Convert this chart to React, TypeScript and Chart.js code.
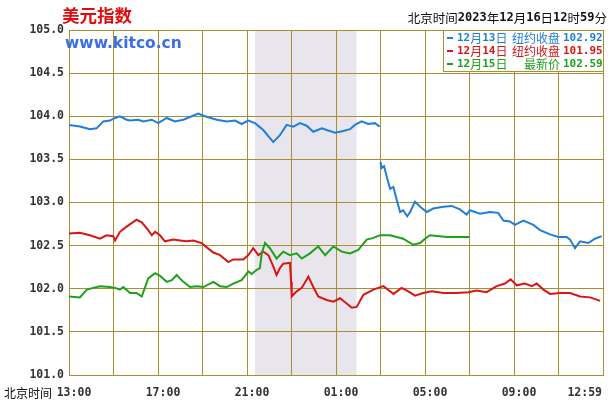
import React, { useEffect, useRef } from "react";
import { Chart, registerables } from "chart.js";
Chart.register(...registerables);

// hours since 13:00 Beijing time
const X_LABELS = ["13:00", "17:00", "21:00", "01:00", "05:00", "09:00", "12:59"];
const X_MIN = 0;
const X_MAX = 24;
const Y_MIN = 101;
const Y_MAX = 105;
const SHADE_START = 8.36;
const SHADE_END = 12.92;

// 12月13日 (blue) – two segments
const BLUE1_T = [0, 0.49, 0.94, 1.24, 1.54, 1.84, 2.07, 2.29, 2.59, 2.74, 3.11, 3.34, 3.72, 4.01, 4.39, 4.76, 5.14, 5.52, 5.81, 6.11, 6.64, 7.09, 7.46, 7.76, 8.06, 8.36, 8.73, 9.18, 9.48, 9.78, 10.08, 10.38, 10.68, 10.98, 11.36, 11.58, 11.96, 12.33, 12.63, 12.85, 13.15, 13.45, 13.75, 13.96];
const BLUE1_V = [103.9, 103.88, 103.85, 103.86, 103.94, 103.95, 103.98, 104.0, 103.96, 103.95, 103.96, 103.94, 103.96, 103.92, 103.98, 103.94, 103.96, 104.0, 104.03, 104.0, 103.96, 103.94, 103.95, 103.91, 103.95, 103.92, 103.84, 103.7, 103.78, 103.9, 103.88, 103.92, 103.89, 103.82, 103.86, 103.84, 103.81, 103.83, 103.85, 103.9, 103.94, 103.91, 103.92, 103.88];
const BLUE2_T = [14.0, 14.05, 14.16, 14.28, 14.43, 14.58, 14.73, 14.88, 15.02, 15.2, 15.33, 15.55, 15.78, 16.08, 16.37, 16.82, 17.2, 17.57, 17.87, 18.02, 18.47, 18.92, 19.29, 19.52, 19.82, 20.04, 20.42, 20.87, 21.17, 21.62, 21.99, 22.37, 22.52, 22.74, 22.97, 23.34, 23.64, 23.94];
const BLUE2_V = [103.47, 103.4, 103.42, 103.3, 103.16, 103.18, 103.03, 102.89, 102.91, 102.84, 102.89, 103.01, 102.95, 102.89, 102.93, 102.95, 102.96, 102.92, 102.86, 102.91, 102.87, 102.89, 102.88, 102.79, 102.78, 102.74, 102.79, 102.74, 102.68, 102.63, 102.6, 102.6, 102.57, 102.47, 102.55, 102.53, 102.58, 102.61];

// 12月14日 (red)
const RED_T = [0, 0.49, 0.94, 1.39, 1.69, 1.99, 2.07, 2.29, 2.59, 3.04, 3.27, 3.56, 3.72, 3.87, 4.09, 4.31, 4.69, 4.99, 5.29, 5.59, 5.96, 6.19, 6.49, 6.79, 7.16, 7.38, 7.83, 8.06, 8.28, 8.51, 8.73, 8.96, 9.18, 9.33, 9.48, 9.63, 9.93, 9.98, 10.01, 10.23, 10.46, 10.76, 10.98, 11.2, 11.58, 11.88, 12.18, 12.48, 12.71, 12.93, 13.23, 13.68, 14.13, 14.58, 14.95, 15.25, 15.55, 15.92, 16.3, 16.82, 17.42, 17.95, 18.32, 18.77, 19.22, 19.6, 19.85, 20.12, 20.49, 20.8, 21.02, 21.32, 21.62, 22.07, 22.52, 22.97, 23.42, 23.87];
const RED_V = [102.64, 102.65, 102.62, 102.58, 102.62, 102.61, 102.56, 102.66, 102.72, 102.8, 102.77, 102.68, 102.62, 102.66, 102.62, 102.55, 102.57, 102.56, 102.55, 102.56, 102.53, 102.48, 102.42, 102.39, 102.31, 102.34, 102.34, 102.39, 102.47, 102.39, 102.43, 102.39, 102.26, 102.16, 102.24, 102.29, 102.3, 102.08, 101.91, 101.97, 102.01, 102.14, 102.02, 101.91, 101.87, 101.85, 101.89, 101.83, 101.78, 101.79, 101.93, 101.99, 102.03, 101.94, 102.01, 101.97, 101.92, 101.95, 101.97, 101.95, 101.95, 101.96, 101.98, 101.96, 102.03, 102.06, 102.11, 102.04, 102.06, 102.03, 102.06, 101.99, 101.94, 101.95, 101.95, 101.91, 101.9, 101.86];

// 12月15日 (green)
const GREEN_T = [0, 0.49, 0.8, 1.09, 1.39, 1.84, 2.07, 2.29, 2.44, 2.74, 3.04, 3.27, 3.56, 3.87, 4.09, 4.39, 4.62, 4.84, 5.14, 5.44, 5.74, 6.04, 6.49, 6.79, 7.09, 7.38, 7.76, 8.06, 8.21, 8.44, 8.58, 8.66, 8.81, 9.03, 9.33, 9.63, 9.93, 10.23, 10.46, 10.83, 11.2, 11.51, 11.88, 12.26, 12.63, 13.0, 13.38, 13.68, 13.98, 14.43, 15.02, 15.47, 15.78, 16.0, 16.22, 16.98, 17.99];
const GREEN_V = [101.91, 101.9, 101.99, 102.01, 102.03, 102.02, 102.01, 101.99, 102.02, 101.95, 101.95, 101.91, 102.12, 102.18, 102.15, 102.08, 102.1, 102.16, 102.08, 102.02, 102.03, 102.02, 102.08, 102.03, 102.02, 102.06, 102.1, 102.2, 102.17, 102.22, 102.24, 102.41, 102.53, 102.47, 102.35, 102.43, 102.39, 102.41, 102.35, 102.41, 102.49, 102.39, 102.49, 102.43, 102.41, 102.45, 102.57, 102.59, 102.62, 102.62, 102.58, 102.51, 102.53, 102.58, 102.62, 102.6, 102.6];

const LEGEND_DATES = ["12月13日", "12月14日", "12月15日"];
const LEGEND_KINDS = ["纽约收盘", "纽约收盘", "最新价"];
const LEGEND_VALUES = ["102.92", "101.95", "102.59"];

const TITLE = "美元指数";
const SITE = "www.kitco.cn";
const STAMP = "北京时间2023年12月16日12时59分";
const X_AXIS_NAME = "北京时间";

const COLORS = ["#1f7fd8", "#d81616", "#1ea01e"];
const GRID = "#aa8f30";
const SHADE = "#e8e6ec";
const MONO = '"DejaVu Sans Mono", monospace';
const CJK = '"Noto Sans CJK SC", sans-serif';

const toPts = (t: number[], v: number[]) => t.map((x, i) => ({ x, y: v[i] }));

function drawMixed(ctx: CanvasRenderingContext2D, text: string, x: number, y: number, align: "left" | "right", digitFont: string, cjkFont: string, color: string) {
  const runs = text.match(/[0-9.:]+|[^0-9.:]+/g) || [];
  const fontOf = (r: string) => (/^[0-9.:]+$/.test(r) ? digitFont : cjkFont);
  let total = 0;
  for (const r of runs) { ctx.font = fontOf(r); total += ctx.measureText(r).width; }
  let cx = align === "left" ? x : x - total;
  ctx.fillStyle = color;
  ctx.textAlign = "left";
  ctx.textBaseline = "middle";
  for (const r of runs) {
    ctx.font = fontOf(r);
    ctx.fillText(r, cx, y);
    cx += ctx.measureText(r).width;
  }
}

const decor = {
  id: "decor",
  beforeDraw(chart: any) {
    const { ctx, chartArea, scales } = chart;
    ctx.save();
    ctx.fillStyle = "#ffffff";
    ctx.fillRect(0, 0, chart.width, chart.height);
    const x0 = scales.x.getPixelForValue(SHADE_START);
    const x1 = scales.x.getPixelForValue(SHADE_END);
    ctx.fillStyle = SHADE;
    ctx.fillRect(x0, chartArea.top, x1 - x0, chartArea.bottom - chartArea.top);
    ctx.restore();
  },
  afterDraw(chart: any) {
    const { ctx, chartArea, scales } = chart;
    ctx.save();
    // title
    ctx.font = `bold 17.5px ${CJK}`;
    ctx.fillStyle = "#e00b0b";
    ctx.textAlign = "left";
    ctx.textBaseline = "middle";
    ctx.fillText(TITLE, 62, 15);
    // site
    ctx.font = 'bold 15.5px "DejaVu Sans", sans-serif';
    ctx.fillStyle = "#3a6ee6";
    ctx.fillText(SITE, 65, 44);
    // stamp
    drawMixed(ctx, STAMP, 607, 18, "right", `bold 12px ${MONO}`, `12.5px ${CJK}`, "#111");
    // legend box
    const bx = 443.5, by = chartArea.top + 0.5, bw = chartArea.right - 443, bh = 41;
    ctx.fillStyle = "#fff";
    ctx.fillRect(bx, by, bw, bh);
    ctx.strokeStyle = GRID;
    ctx.lineWidth = 1;
    ctx.strokeRect(bx, by, bw, bh);
    const rows = [38, 51, 64];
    for (let i = 0; i < 3; i++) {
      const y = rows[i];
      ctx.fillStyle = COLORS[i];
      ctx.fillRect(447, y - 1, 6, 2);
      drawMixed(ctx, LEGEND_DATES[i], 457, y, "left", `bold 11px ${MONO}`, `12px ${CJK}`, COLORS[i]);
      ctx.font = `12px ${CJK}`;
      ctx.fillStyle = COLORS[i];
      ctx.textAlign = "right";
      ctx.textBaseline = "middle";
      ctx.fillText(LEGEND_KINDS[i], 560, y);
      ctx.font = `bold 11px ${MONO}`;
      ctx.textAlign = "left";
      ctx.fillText(LEGEND_VALUES[i], 563, y);
    }
    // x labels
    ctx.font = `bold 11.5px ${MONO}`;
    ctx.fillStyle = "#333";
    ctx.textBaseline = "middle";
    const ly = 393;
    X_LABELS.forEach((lab, i) => {
      const px = scales.x.getPixelForValue(i * 4);
      if (i === X_LABELS.length - 1) {
        ctx.textAlign = "right";
        ctx.fillText(lab, chartArea.right - 1, ly);
      } else {
        ctx.textAlign = "center";
        ctx.fillText(lab, px + 5, ly);
      }
    });
    ctx.font = `12px ${CJK}`;
    ctx.fillStyle = "#111";
    ctx.textAlign = "left";
    ctx.fillText(X_AXIS_NAME, 4, ly);
    ctx.restore();
  },
};

export default function App() {
  const ref = useRef<HTMLCanvasElement>(null);
  useEffect(() => {
    if (!ref.current) return;
    const lineDs = (data: any[], color: string) => ({
      data,
      borderColor: color,
      backgroundColor: color,
      borderWidth: 2,
      pointRadius: 0,
      tension: 0,
      spanGaps: false,
    });
    const chart = new Chart(ref.current, {
      type: "line",
      data: {
        // first dataset is drawn on top
        datasets: [
          lineDs(toPts(GREEN_T, GREEN_V), COLORS[2]),
          lineDs([...toPts(BLUE1_T, BLUE1_V), { x: 13.98, y: null }, ...toPts(BLUE2_T, BLUE2_V)], COLORS[0]),
          lineDs(toPts(RED_T, RED_V), COLORS[1]),
        ] as any,
      },
      options: {
        animation: false,
        responsive: false,
        devicePixelRatio: 1,
        layout: { padding: { top: 30, right: 10, left: 0, bottom: 0 } },
        plugins: { legend: { display: false }, tooltip: { enabled: false }, title: { display: false } },
        scales: {
          x: {
            type: "linear",
            min: X_MIN,
            max: X_MAX,
            ticks: { stepSize: 2, display: false },
            grid: { color: GRID, lineWidth: 1, drawTicks: false },
            border: { color: GRID },
            afterFit: (s: any) => { s.height = 35; },
          },
          y: {
            min: Y_MIN,
            max: Y_MAX,
            ticks: {
              stepSize: 0.5,
              padding: 5,
              color: "#333",
              font: { family: "DejaVu Sans Mono", size: 11.5, weight: "bold" },
              callback: (v: any) => Number(v).toFixed(1),
            },
            grid: { color: GRID, lineWidth: 1, drawTicks: false },
            border: { color: GRID },
            afterFit: (s: any) => { s.width = 69; },
          },
        },
      } as any,
      plugins: [decor],
    });
    return () => chart.destroy();
  }, []);
  return (
    <div style={{ position: "fixed", left: 0, top: 0, width: 613, height: 410, background: "#fff" }}>
      <canvas ref={ref} width={613} height={410} />
    </div>
  );
}
